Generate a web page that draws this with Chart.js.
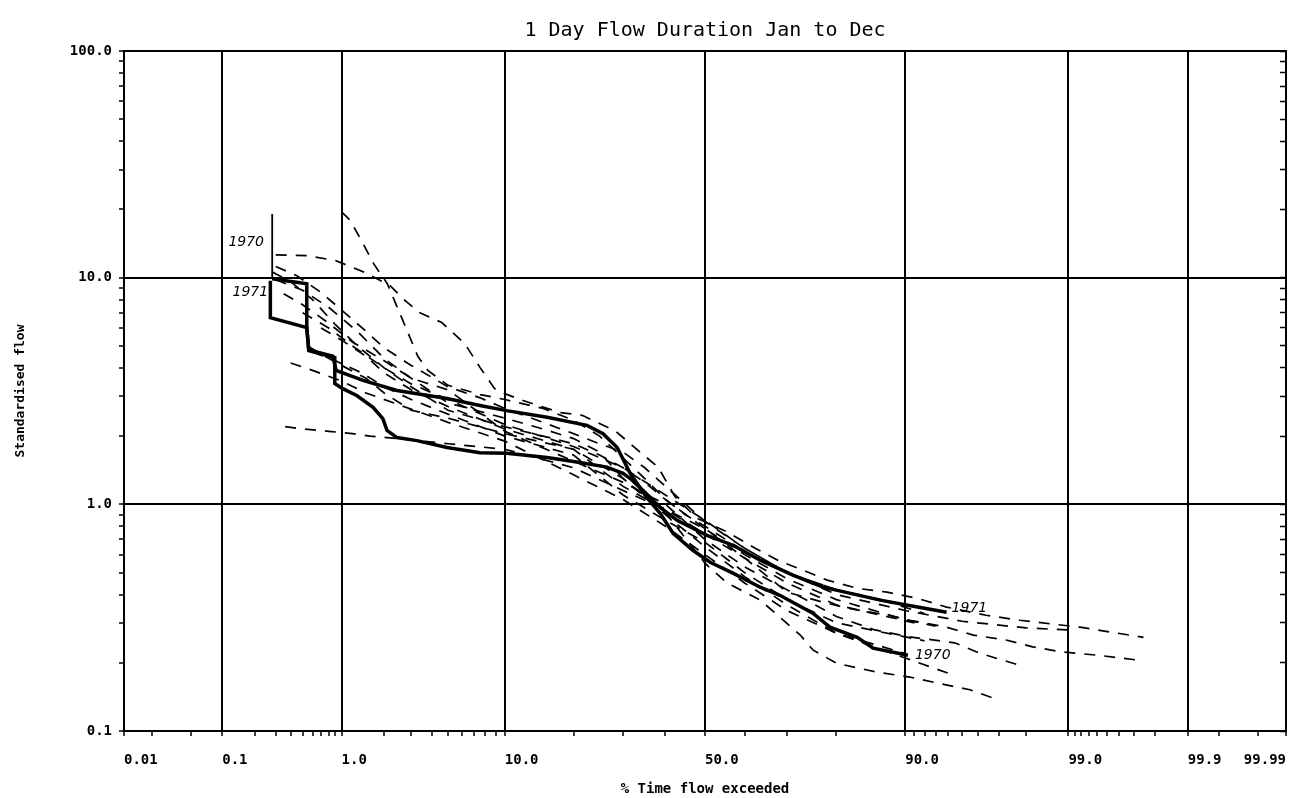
<!DOCTYPE html>
<html><head><meta charset="utf-8">
<script src="https://cdn.jsdelivr.net/npm/chart.js@4.4.1/dist/chart.umd.min.js"></script>
<style>html,body{margin:0;padding:0;background:#fff;}canvas{display:block;}</style>
</head><body>
<canvas id="c" width="1315" height="798"></canvas>
<script>
// ---------- texts & ticks ----------
const titleText = '1 Day Flow Duration Jan to Dec';
const xAxisTitle = '% Time flow exceeded';
const yAxisTitle = 'Standardised flow';
const xMajorPercents = [0.01, 0.1, 1, 10, 50, 90, 99, 99.9, 99.99];
const xMajorLabels = ['0.01', '0.1', '1.0', '10.0', '50.0', '90.0', '99.0', '99.9', '99.99'];
const xMinorPercents = [0.02, 0.05, 0.2, 0.3, 0.4, 0.5, 0.6, 0.7, 0.8, 0.9, 2, 3, 4, 5, 6, 7, 8, 9,
  20, 30, 40, 60, 70, 80, 91, 92, 93, 94, 95, 96, 97, 98, 99.1, 99.2, 99.3, 99.4, 99.5, 99.6, 99.7, 99.8, 99.95, 99.98];
const yMajorValues = [0.1, 1, 10, 100];
const yMajorLabels = ['0.1', '1.0', '10.0', '100.0'];
const yMinorValues = [0.2, 0.3, 0.4, 0.5, 0.6, 0.7, 0.8, 0.9, 2, 3, 4, 5, 6, 7, 8, 9, 20, 30, 40, 50, 60, 70, 80, 90];

// ---------- highlighted years (solid) ----------
const pct1970 = [0.28, 0.28, 0.54, 0.54, 0.56, 0.86, 0.91, 1.43, 2.43, 4.93, 7.49, 10.2, 15.6, 22.5, 25.7, 28.7, 31.6, 35.5, 38.7, 41.9, 46.9, 51.3, 57.1, 63.8, 68.4, 75.5, 78.8, 83.5, 85.9, 90.3];
const flow1970 = [19.1, 9.9, 9.4, 6.0, 4.8, 4.5, 3.9, 3.52, 3.18, 2.93, 2.73, 2.59, 2.42, 2.23, 2.05, 1.78, 1.37, 1.07, 0.913, 0.745, 0.627, 0.555, 0.497, 0.431, 0.397, 0.331, 0.287, 0.259, 0.232, 0.216];
const pct1971 = [0.27, 0.27, 0.54, 0.56, 0.89, 0.89, 1.02, 1.29, 1.68, 1.96, 2.09, 2.43, 3.26, 4.93, 7.49, 10.2, 15.6, 21.2, 26.5, 30.0, 31.6, 34.6, 38.7, 42.9, 50.5, 57.1, 63.8, 71.3, 77.5, 86.9, 90.3, 93.9];
const flow1971 = [9.7, 6.66, 6.02, 4.77, 4.44, 3.41, 3.24, 3.02, 2.68, 2.39, 2.12, 1.97, 1.91, 1.78, 1.69, 1.68, 1.61, 1.53, 1.46, 1.37, 1.30, 1.15, 0.97, 0.85, 0.73, 0.66, 0.567, 0.487, 0.431, 0.378, 0.359, 0.334];

// ---------- other years (dashed) ----------
const pctA = [1.0, 1.15, 1.4, 1.7, 2.1, 2.6, 3.3, 3.8, 5, 7.5, 10, 15, 20, 25, 30, 35, 40, 45, 50, 60, 70, 80, 88, 92];
const flowA = [19.5, 18.0, 14.5, 11.5, 9.4, 6.7, 4.5, 3.9, 3.35, 3.05, 2.9, 2.65, 2.35, 2.0, 1.6, 1.3, 1.05, 0.9, 0.8, 0.62, 0.5, 0.42, 0.37, 0.33];
const pctB = [0.3, 0.55, 0.9, 1.5, 2.2, 2.7, 3.4, 4.6, 6.2, 7.5, 8.9, 10.0, 12.2, 17.7, 21.6, 28.4, 33.4, 38.2, 42.4, 48.0, 55.8, 62.6, 68.4, 73.5, 78.3, 83.5, 87.8, 91.3, 93.9, 96.4, 97.8, 99.18, 99.75];
const flowB = [12.6, 12.5, 11.9, 10.5, 9.2, 8.0, 7.0, 6.34, 5.12, 4.01, 3.24, 3.08, 2.87, 2.54, 2.47, 2.10, 1.73, 1.46, 1.08, 0.868, 0.753, 0.64, 0.561, 0.512, 0.463, 0.426, 0.41, 0.385, 0.352, 0.324, 0.308, 0.287, 0.259];
const pctC = [0.3, 0.45, 0.7, 1.0, 1.5, 2, 3, 5, 7.5, 10, 15, 20, 25, 30, 35, 40, 50, 60, 70, 80, 90, 95, 98, 99];
const flowC = [11.2, 10.2, 8.6, 7.2, 5.8, 4.9, 4.1, 3.3, 2.95, 2.65, 2.3, 2.05, 1.85, 1.7, 1.45, 1.2, 0.84, 0.64, 0.5, 0.4, 0.34, 0.305, 0.285, 0.279];
const pctD = [0.28, 0.4, 0.6, 0.9, 1.3, 2, 3, 5, 10, 15, 20, 25, 30, 35, 40, 50, 60, 70, 77.5, 82, 88, 90.5, 93.9, 95.7, 97.3, 98.2, 98.9, 99.4, 99.75];
const flowD = [10.6, 9.6, 8.0, 6.2, 5.0, 4.0, 3.3, 2.6, 2.2, 2.0, 1.85, 1.65, 1.45, 1.25, 1.05, 0.78, 0.58, 0.41, 0.37, 0.348, 0.324, 0.308, 0.287, 0.265, 0.252, 0.235, 0.223, 0.216, 0.204];
const pctE = [0.35, 0.5, 0.8, 1.2, 2, 3, 5, 10, 20, 30, 40, 50, 60, 70, 75, 80, 86, 90.5, 94.5, 96.1, 97.8];
const flowE = [8.5, 7.6, 6.3, 5.2, 4.3, 3.6, 3.2, 2.1, 1.55, 1.25, 1.0, 0.7, 0.53, 0.42, 0.37, 0.32, 0.28, 0.26, 0.245, 0.22, 0.195];
const pctF = [0.55, 0.7, 1, 1.5, 2, 3, 5, 10, 20, 30, 40, 50, 55.6, 63.8, 68.4, 72.9, 75.5, 80, 86.4, 90.5, 93.1, 95.5, 97];
const flowF = [5.0, 4.6, 4.1, 3.6, 3.1, 2.6, 2.4, 2.05, 1.75, 1.3, 0.92, 0.55, 0.45, 0.378, 0.318, 0.265, 0.228, 0.199, 0.182, 0.173, 0.163, 0.152, 0.137];
const pctG = [0.36, 0.5, 0.8, 1.2, 1.6, 2.5, 5, 10, 20, 30, 40, 50, 60, 70, 80, 90, 93];
const flowG = [2.2, 2.15, 2.1, 2.05, 2.0, 1.95, 1.85, 1.75, 1.45, 1.15, 0.95, 0.78, 0.6, 0.47, 0.38, 0.31, 0.29];
const pctH = [0.5, 0.8, 1.2, 2, 3, 5, 10, 20, 30, 40, 50, 60, 70, 80, 90];
const flowH = [7.0, 6.0, 5.0, 4.0, 3.4, 2.9, 2.25, 1.8, 1.45, 1.1, 0.85, 0.64, 0.5, 0.42, 0.36];
const pctI = [0.6, 0.9, 1.4, 2, 3, 5, 10, 20, 30, 40, 50, 60, 70, 80, 90, 92];
const flowI = [4.7, 4.3, 3.8, 3.3, 2.9, 2.5, 2.0, 1.65, 1.1, 0.85, 0.68, 0.5, 0.38, 0.3, 0.26, 0.25];
const pctJ = [0.3, 0.5, 0.8, 1.3, 2, 3, 5, 10, 15, 20, 25, 30, 40, 50, 60, 70, 80, 90, 94];
const flowJ = [9.8, 8.8, 7.4, 5.8, 4.4, 3.6, 2.8, 2.4, 2.15, 1.95, 1.7, 1.3, 0.9, 0.65, 0.48, 0.36, 0.27, 0.21, 0.18];
const pctK = [0.7, 1, 1.5, 2, 3, 5, 10, 20, 30, 40, 50, 60, 70, 80, 91];
const flowK = [6.0, 5.3, 4.5, 3.8, 3.2, 2.7, 2.15, 1.75, 1.2, 0.95, 0.74, 0.58, 0.45, 0.36, 0.3];
const pctL = [0.4, 0.6, 1, 1.5, 2.5, 5, 10, 20, 30, 40, 50, 60, 70, 80, 90];
const flowL = [4.2, 3.9, 3.5, 3.1, 2.75, 2.3, 1.9, 1.35, 1.05, 0.8, 0.6, 0.45, 0.34, 0.27, 0.22];

// ---------- normal probability transform ----------
function probit(p) {
  const a = [-3.969683028665376e+01, 2.209460984245205e+02, -2.759285104469687e+02, 1.383577518672690e+02, -3.066479806614716e+01, 2.506628277459239e+00];
  const b = [-5.447609879822406e+01, 1.615858368580409e+02, -1.556989798598866e+02, 6.680131188771972e+01, -1.328068155288572e+01];
  const c = [-7.784894002430293e-03, -3.223964580411365e-01, -2.400758277161838e+00, -2.549732539343734e+00, 4.374664141464968e+00, 2.938163982698783e+00];
  const d = [7.784695709041462e-03, 3.224671290700398e-01, 2.445134137142996e+00, 3.754408661907416e+00];
  const pl = 0.02425, ph = 1 - pl;
  if (p < pl) { const q = Math.sqrt(-2 * Math.log(p)); return (((((c[0]*q+c[1])*q+c[2])*q+c[3])*q+c[4])*q+c[5]) / ((((d[0]*q+d[1])*q+d[2])*q+d[3])*q+1); }
  if (p <= ph) { const q = p - 0.5, r = q*q; return (((((a[0]*r+a[1])*r+a[2])*r+a[3])*r+a[4])*r+a[5])*q / (((((b[0]*r+b[1])*r+b[2])*r+b[3])*r+b[4])*r+1); }
  const q = Math.sqrt(-2 * Math.log(1 - p));
  return -(((((c[0]*q+c[1])*q+c[2])*q+c[3])*q+c[4])*q+c[5]) / ((((d[0]*q+d[1])*q+d[2])*q+d[3])*q+1);
}
const zOf = pct => probit(pct / 100);
const toPoints = (pcts, flows) => pcts.map((p, i) => ({x: zOf(p), y: flows[i]}));

const dashedSeries = [[pctA, flowA], [pctB, flowB], [pctC, flowC], [pctD, flowD], [pctE, flowE], [pctF, flowF],
  [pctG, flowG], [pctH, flowH], [pctI, flowI], [pctJ, flowJ], [pctK, flowK], [pctL, flowL]];

const datasets = dashedSeries.map((s, i) => ({
  label: 'year ' + (i + 1), data: toPoints(s[0], s[1]),
  borderColor: '#000', borderWidth: 1.7, borderDash: [11, 9], pointRadius: 0, tension: 0, fill: false
}));
datasets.push({label: '1970', data: toPoints(pct1970, flow1970), borderColor: '#000', borderWidth: 3.5, pointRadius: 0, tension: 0, fill: false,
  segment: {borderWidth: ctx => ctx.p0DataIndex === 0 ? 1.8 : undefined}});
datasets.push({label: '1971', data: toPoints(pct1971, flow1971), borderColor: '#000', borderWidth: 3.5, pointRadius: 0, tension: 0, fill: false});

const xAllPercents = xMajorPercents.concat(xMinorPercents).sort((a, b) => a - b);
const yAllValues = yMajorValues.concat(yMinorValues).sort((a, b) => a - b);
const xMin = zOf(0.01), xMax = zOf(99.99);
const isXMajor = v => xMajorPercents.some(p => Math.abs(zOf(p) - v) < 1e-9);
const isYMajor = v => yMajorValues.some(m => Math.abs(m - v) < 1e-9);

const MONO = '"DejaVu Sans Mono", "Liberation Mono", monospace';

const yearLabels = {
  id: 'yearLabels',
  afterDatasetsDraw(chart) {
    const {ctx, scales: {x, y}} = chart;
    ctx.save();
    ctx.font = 'italic 14px "DejaVu Sans"';
    ctx.fillStyle = '#000';
    ctx.textBaseline = 'middle';
    const put = (pct, val, dx, dy, text, align) => {
      ctx.textAlign = align;
      ctx.fillText(text, x.getPixelForValue(zOf(pct)) + dx, y.getPixelForValue(val) + dy);
    };
    put(pct1970[0], flow1970[0], -26, 28, '1970', 'center');
    put(pct1971[0], flow1971[0], -20, 12, '1971', 'center');
    put(pct1971[pct1971.length - 1], flow1971[flow1971.length - 1], 5, -4, '1971', 'left');
    put(pct1970[pct1970.length - 1], flow1970[flow1970.length - 1], 7, 0, '1970', 'left');
    ctx.restore();
  }
};

new Chart(document.getElementById('c'), {
  type: 'line',
  data: {datasets},
  options: {
    responsive: false, animation: false, devicePixelRatio: 1,
    layout: {padding: {left: 0, right: 29, top: 0, bottom: 0}},
    plugins: {
      legend: {display: false}, tooltip: {enabled: false},
      title: {display: true, text: titleText, fullSize: false, color: '#000',
        font: {family: MONO, size: 20, weight: 'normal'}, padding: {top: 19, bottom: 8}}
    },
    scales: {
      x: {
        type: 'linear', position: 'bottom', min: xMin, max: xMax,
        afterBuildTicks: s => { s.ticks = xAllPercents.map(p => ({value: zOf(p)})); },
        afterFit: s => { s.height = 67; },
        ticks: {
          autoSkip: false, maxRotation: 0, align: 'inner', padding: 16, color: '#000',
          font: {family: MONO, size: 14, weight: 'bold'},
          callback: function (value) {
            const i = xMajorPercents.findIndex(p => Math.abs(zOf(p) - value) < 1e-9);
            if (i < 0) return '';
            const s = xMajorLabels[i];
            return (i === 0 || i === xMajorLabels.length - 1) ? s : ' '.repeat(s.length) + s;
          }
        },
        grid: {
          color: c => (c.tick && isXMajor(c.tick.value)) ? '#000' : 'rgba(0,0,0,0)',
          tickColor: '#000', lineWidth: 2, tickWidth: 1.5, tickLength: 5
        },
        border: {display: true, color: '#000', width: 2},
        title: {display: true, text: xAxisTitle, color: '#000', font: {family: MONO, size: 14, weight: 'bold'}, padding: {top: 0, bottom: 0}}
      },
      xT: {
        type: 'linear', position: 'top', min: xMin, max: xMax,
        afterFit: s => { s.height = 0; },
        ticks: {display: false},
        grid: {drawOnChartArea: false, drawTicks: false},
        border: {display: true, color: '#000', width: 2}
      },
      y: {
        type: 'logarithmic', position: 'left', min: 0.1, max: 100,
        afterBuildTicks: s => { s.ticks = yAllValues.map(v => ({value: v})); },
        afterFit: s => { s.width = 124; },
        ticks: {
          autoSkip: false, padding: 7, color: '#000',
          font: {family: MONO, size: 14, weight: 'bold'},
          callback: function (value) {
            const i = yMajorValues.findIndex(m => Math.abs(m - value) < 1e-9);
            return i < 0 ? '' : yMajorLabels[i];
          }
        },
        grid: {
          color: c => (c.tick && isYMajor(c.tick.value)) ? '#000' : 'rgba(0,0,0,0)',
          tickColor: '#000', lineWidth: 2, tickWidth: 1.5, tickLength: 5
        },
        border: {display: true, color: '#000', width: 2},
        title: {display: true, text: yAxisTitle, color: '#000', font: {family: MONO, size: 13, weight: 'bold'}, padding: {top: 13, bottom: 0}}
      },
      yR: {
        type: 'logarithmic', position: 'right', min: 0.1, max: 100,
        afterBuildTicks: s => { s.ticks = yAllValues.map(v => ({value: v})); },
        afterFit: s => { s.width = 0; },
        ticks: {display: false},
        grid: {drawOnChartArea: false, drawTicks: true, tickLength: -6, tickColor: '#000', tickWidth: 1.5},
        border: {display: true, color: '#000', width: 2}
      }
    }
  },
  plugins: [yearLabels]
});
</script>
</body></html>
